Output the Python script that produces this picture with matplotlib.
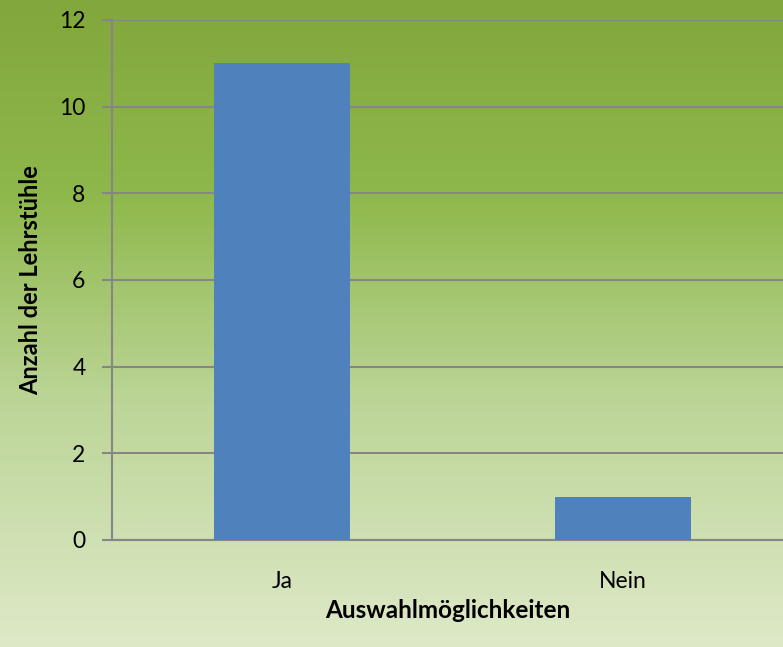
import numpy as np
from matplotlib import pyplot as plt
from matplotlib.colors import LinearSegmentedColormap

categories = ['Ja', 'Nein']
counts = [11, 1]
y_ticks = [0, 2, 4, 6, 8, 10, 12]

plt.rcParams['font.family'] = ['Lato', 'DejaVu Sans']

fig = plt.figure(figsize=(7.83, 6.47), dpi=100)

# background gradient (dark green at top, pale at bottom)
bg = fig.add_axes([0, 0, 1, 1], zorder=-1)
cmap = LinearSegmentedColormap.from_list('bg', [
    (0.0, '#82a73c'),
    (0.3, '#8eb84b'),
    (0.62, '#bcd597'),
    (1.0, '#dee9c8'),
])
grad = np.linspace(0, 1, 256).reshape(-1, 1)
bg.imshow(grad, aspect='auto', cmap=cmap, extent=[0, 1, 0, 1])
bg.axis('off')

ax = fig.add_axes([112 / 783, 1 - 540 / 647, 1 - 112 / 783, 520 / 647])
ax.patch.set_alpha(0)
x = np.arange(len(categories))
ax.bar(x, counts, width=0.4, color='#4f81bd', zorder=3)

ax.set_ylim(0, 12)
ax.set_xlim(-0.5, 1.47)
ax.set_yticks(y_ticks)
ax.set_xticks(x)
ax.set_xticklabels(categories)
ax.tick_params(axis='y', length=7, width=1.5, color='#868686', labelsize=16.5, pad=12)
ax.tick_params(axis='x', length=0, labelsize=16.5, pad=22)
ax.yaxis.grid(True, color='#868686', linewidth=1.5, zorder=0)

for side in ['top', 'right']:
    ax.spines[side].set_visible(False)
for side in ['left', 'bottom']:
    ax.spines[side].set_color('#868686')
    ax.spines[side].set_linewidth(1.5)

ax.set_ylabel('Anzahl der Lehrstühle', fontsize=17, fontweight='bold', labelpad=12)
ax.set_xlabel('Auswahlmöglichkeiten', fontsize=17.5, fontweight='bold', labelpad=5)

fig.savefig('out.png', dpi=100)
